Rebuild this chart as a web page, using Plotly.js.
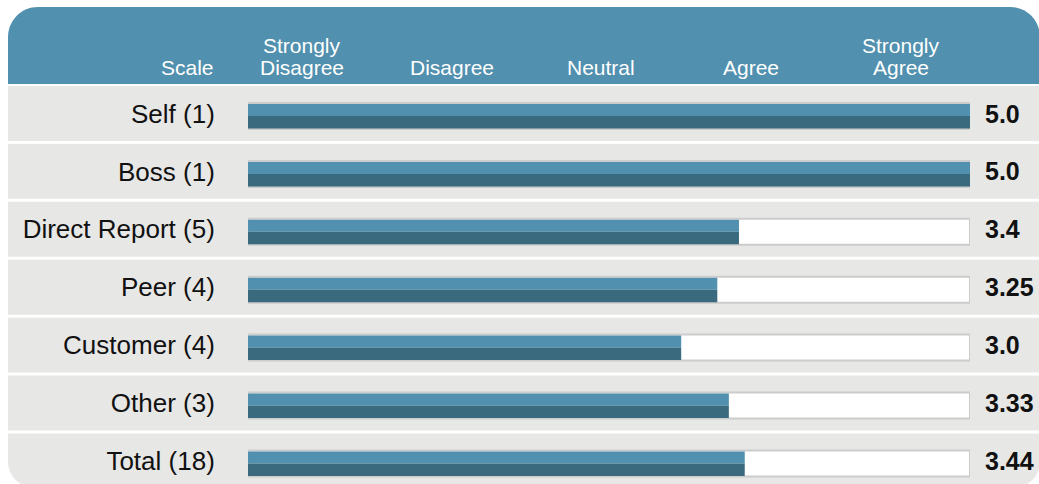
<!DOCTYPE html>
<html>
<head>
<meta charset="utf-8">
<script src="https://cdn.plot.ly/plotly-3.0.1.min.js"></script>
<style>
  html, body { margin: 0; padding: 0; background: #ffffff; }
  #chart { width: 1039px; height: 484px; }
</style>
</head>
<body>
<div id="chart"></div>
<script>
// ---- data ----
const categories = ["Self (1)", "Boss (1)", "Direct Report (5)", "Peer (4)", "Customer (4)", "Other (3)", "Total (18)"];
const scores = [5.0, 5.0, 3.4, 3.25, 3.0, 3.33, 3.44];
const scaleTop = ["Strongly", "", "", "", "Strongly"];
const scaleBottom = ["Disagree", "Disagree", "Neutral", "Agree", "Agree"];
const scaleTitle = "Scale";
const scaleMax = 5;

// ---- layout geometry ----
const W = 1039, H = 484;
const M = { l: 248, r: 69, t: 84, b: 0 };
const PW = W - M.l - M.r, PH = H - M.t - M.b;
const rowPx = 57.9;
const yTop = 0.5095;
const yBottom = yTop - PH / rowPx;
const px2x = px => (px - M.l) / PW;
const py2y = py => (H - M.b - py) / PH;
const P = (px, py) => px2x(px).toFixed(5) + "," + py2y(py).toFixed(5);

const BLUE = "#5190ae", DARK = "#396a7e", GRAY = "#e7e7e6";
const FONT = "Liberation Sans, Arial, Helvetica, sans-serif";

const ypos = categories.map((c, i) => -i);
const fmt = v => (Number.isInteger(v) ? v.toFixed(1) : String(v));

// rounded corner helper (cubic approximation)
const k = 0.5523;
function cardBody() {
  const x0 = 8, x1 = 1040, y0 = 86, y1 = 487, r = 25;
  return "M" + P(x0, y0) + " L" + P(x1, y0) + " L" + P(x1, y1 - r) +
    " C" + P(x1, y1 - r + r * k) + " " + P(x1 - r + r * k, y1) + " " + P(x1 - r, y1) +
    " L" + P(x0 + r, y1) +
    " C" + P(x0 + r - r * k, y1) + " " + P(x0, y1 - r + r * k) + " " + P(x0, y1 - r) + " Z";
}
function header() {
  const x0 = 8, x1 = 1040, y0 = 7, y1 = 84, r = 30;
  return "M" + P(x0, y1) + " L" + P(x0, y0 + r) +
    " C" + P(x0, y0 + r - r * k) + " " + P(x0 + r - r * k, y0) + " " + P(x0 + r, y0) +
    " L" + P(x1 - r, y0) +
    " C" + P(x1 - r + r * k, y0) + " " + P(x1, y0 + r - r * k) + " " + P(x1, y0 + r) +
    " L" + P(x1, y1) + " Z";
}

const shapes = [
  { type: "path", xref: "paper", yref: "paper", path: cardBody(), fillcolor: GRAY, line: { width: 0 }, layer: "below" },
  { type: "path", xref: "paper", yref: "paper", path: header(), fillcolor: BLUE, line: { width: 0 }, layer: "below" }
];
for (let i = 1; i < categories.length; i++) {
  shapes.push({ type: "line", xref: "paper", yref: "y", x0: px2x(8), x1: px2x(1040), y0: -i + 0.5, y1: -i + 0.5,
    line: { color: "#ffffff", width: 3 }, layer: "below" });
}

const annotations = [];
// header labels
const hdrX = i => 0.374 + i * 1.037;
scaleBottom.forEach((t, i) => {
  annotations.push({ x: hdrX(i), xref: "x", y: py2y(68), yref: "paper", text: t, showarrow: false,
    xanchor: "center", yanchor: "middle", font: { family: FONT, size: 21, color: "#ffffff" } });
  if (scaleTop[i]) {
    annotations.push({ x: hdrX(i), xref: "x", y: py2y(45.5), yref: "paper", text: scaleTop[i], showarrow: false,
      xanchor: "center", yanchor: "middle", font: { family: FONT, size: 21, color: "#ffffff" } });
  }
});
annotations.push({ x: px2x(216), xref: "paper", y: py2y(68), yref: "paper", text: scaleTitle, showarrow: false,
  xanchor: "right", yanchor: "middle", font: { family: FONT, size: 21, color: "#ffffff" } });
// value labels
scores.forEach((v, i) => {
  annotations.push({ x: scaleMax, xref: "x", y: ypos[i], yref: "y", yshift: 0, xshift: 13, text: "<b>" + fmt(v) + "</b>",
    showarrow: false, xanchor: "left", yanchor: "middle", font: { family: FONT, size: 25, color: "#111111" } });
});

const traces = [
  { type: "bar", orientation: "h", y: ypos, x: categories.map(() => scaleMax), offset: -0.268, width: 0.449,
    marker: { color: "#ffffff", line: { color: "#cccccc", width: 2 } }, hoverinfo: "skip" },
  { type: "bar", orientation: "h", y: ypos, x: scores, offset: -0.043, width: 0.207,
    marker: { color: BLUE, line: { width: 0 } }, hoverinfo: "skip" },
  { type: "bar", orientation: "h", y: ypos, x: scores, offset: -0.259, width: 0.216,
    marker: { color: DARK, line: { width: 0 } }, hoverinfo: "skip" }
];

const layout = {
  width: W, height: H,
  margin: M,
  paper_bgcolor: "#ffffff", plot_bgcolor: "rgba(0,0,0,0)",
  barmode: "overlay",
  showlegend: false,
  xaxis: { range: [0, scaleMax], showgrid: false, zeroline: false, showline: false, showticklabels: false, ticks: "", fixedrange: true },
  yaxis: { range: [yBottom, yTop], tickvals: ypos, ticktext: categories, showgrid: false, zeroline: false, showline: false,
    ticks: "outside", ticklen: 27, tickcolor: "rgba(0,0,0,0)", tickfont: { family: FONT, size: 26, color: "#111111" }, fixedrange: true },
  shapes: shapes,
  annotations: annotations,
  font: { family: FONT }
};

Plotly.newPlot("chart", traces, layout, { staticPlot: true, displayModeBar: false });
</script>
</body>
</html>
